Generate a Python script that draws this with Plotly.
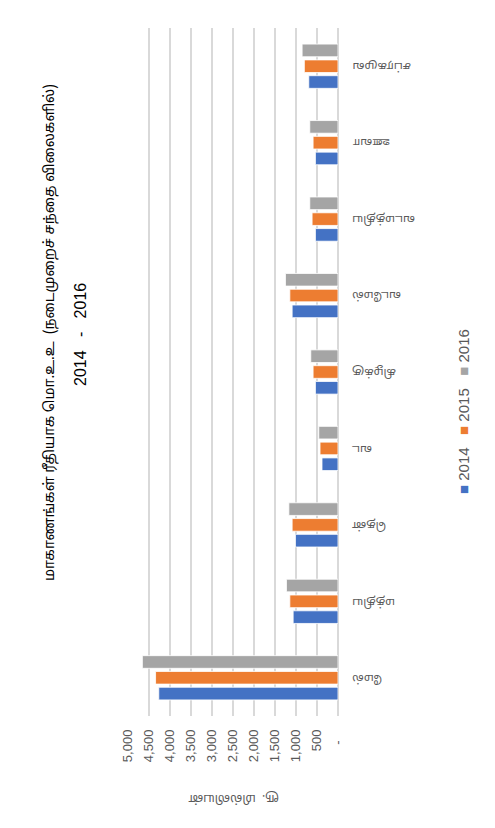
import plotly.graph_objects as go

# ---- data ----
provinces = ["மேல்", "மத்திய", "தென்", "வட", "கிழக்கு", "வடமேல்", "வடமத்திய", "ஊவா", "சப்ரகமுவ"]
years = ["2014", "2015", "2016"]
gdp_2014 = [4260, 1066, 1011, 380, 537, 1090, 537, 537, 695]
gdp_2015 = [4336, 1145, 1090, 427, 592, 1145, 616, 592, 800]
gdp_2016 = [4650, 1225, 1168, 457, 647, 1249, 671, 671, 853]
tick_vals = [0, 500, 1000, 1500, 2000, 2500, 3000, 3500, 4000, 4500, 5000]
tick_text = ["-\u00a0\u00a0\u00a0", "500", "1,000", "1,500", "2,000", "2,500", "3,000", "3,500", "4,000", "4,500", "5,000"]
title_line1 = "மாகாணங்கள் ரீதியாக மொ.உ.உ  (நடைமுறைச் சந்தை விலைகளில்)"
title_line2 = "2014   -   2016"
axis_title = "ரூ.  மில்லியன்"
colors = ["#4472C4", "#ED7D31", "#A5A5A5"]

W, H = 495, 828
OFF = 8  # default page body margin
ML, MT = 127 - OFF, 28 - OFF
PW, PH = 211, 688
MR, MB = W - ML - PW, H - MT - PH


def px(x):
    return (x - OFF - ML) / PW


def py(y):
    return (MT + PH - (y - OFF)) / PH


tamil_font = "Noto Sans Tamil, Latha, Lohit Tamil, sans-serif"

fig = go.Figure()
for name, vals, c in zip(years, [gdp_2014, gdp_2015, gdp_2016], colors):
    fig.add_trace(go.Bar(
        y=provinces, x=vals, name=name, orientation="h",
        marker=dict(color=c, line=dict(color="white", width=0.8)),
    ))

legend_text = "   ".join(
    f"<span style='color:{c}'>■</span> <span style='color:#595959'>{y}</span>"
    for y, c in zip(years, colors)
)

annotations = [
    dict(text=title_line1, x=px(50), y=py(333), xref="paper", yref="paper",
         textangle=-90, showarrow=False, xanchor="center", yanchor="middle",
         font=dict(family=tamil_font, size=14, color="#000000")),
    dict(text=title_line2, x=px(80), y=py(335), xref="paper", yref="paper",
         textangle=-90, showarrow=False, xanchor="center", yanchor="middle",
         font=dict(family="Liberation Sans Narrow, Liberation Sans", size=16, color="#000000")),
    dict(text=axis_title, x=px(234), y=py(798), xref="paper", yref="paper",
         textangle=180, showarrow=False, xanchor="center", yanchor="middle",
         font=dict(family=tamil_font, size=12, color="#595959")),
    dict(text=legend_text, x=px(463), y=py(412), xref="paper", yref="paper",
         textangle=-90, showarrow=False, xanchor="center", yanchor="middle",
         font=dict(family="Liberation Sans", size=15, color="#595959")),
]
# category labels (upside down, as in the rotated original)
for p in provinces:
    annotations.append(dict(
        text=p, x=px(350), y=p, xref="paper", yref="y",
        textangle=180, showarrow=False, xanchor="left", yanchor="middle",
        font=dict(family=tamil_font, size=11.5, color="#595959")))

fig.update_layout(
    width=W, height=H,
    margin=dict(l=ML, r=MR, t=MT, b=MB, autoexpand=False),
    paper_bgcolor="white", plot_bgcolor="white",
    showlegend=False,
    barmode="group", bargap=0.38, bargroupgap=0.2,
    xaxis=dict(
        range=[5015, 0], tickvals=tick_vals, ticktext=tick_text,
        tickangle=-90, showgrid=True, gridcolor="#d9d9d9", gridwidth=1.5,
        zeroline=True, zerolinecolor="#d9d9d9", zerolinewidth=1.5,
        showline=False, ticks="", ticklabelstandoff=10, automargin=False,
        tickfont=dict(family="Liberation Sans", size=13, color="#595959"),
    ),
    yaxis=dict(
        side="right", showticklabels=False, showgrid=False, zeroline=False,
        showline=False, ticks="", automargin=False,
    ),
    annotations=annotations,
    shapes=[
        dict(type="line", xref="paper", yref="paper", x0=px(4.5), x1=px(503), y0=py(4.5), y1=py(4.5),
             line=dict(color="#d9d9d9", width=2)),
        dict(type="line", xref="paper", yref="paper", x0=px(4.5), x1=px(4.5), y0=py(4.5), y1=py(836),
             line=dict(color="#d9d9d9", width=2)),
    ],
)

fig.write_html("out.html")
